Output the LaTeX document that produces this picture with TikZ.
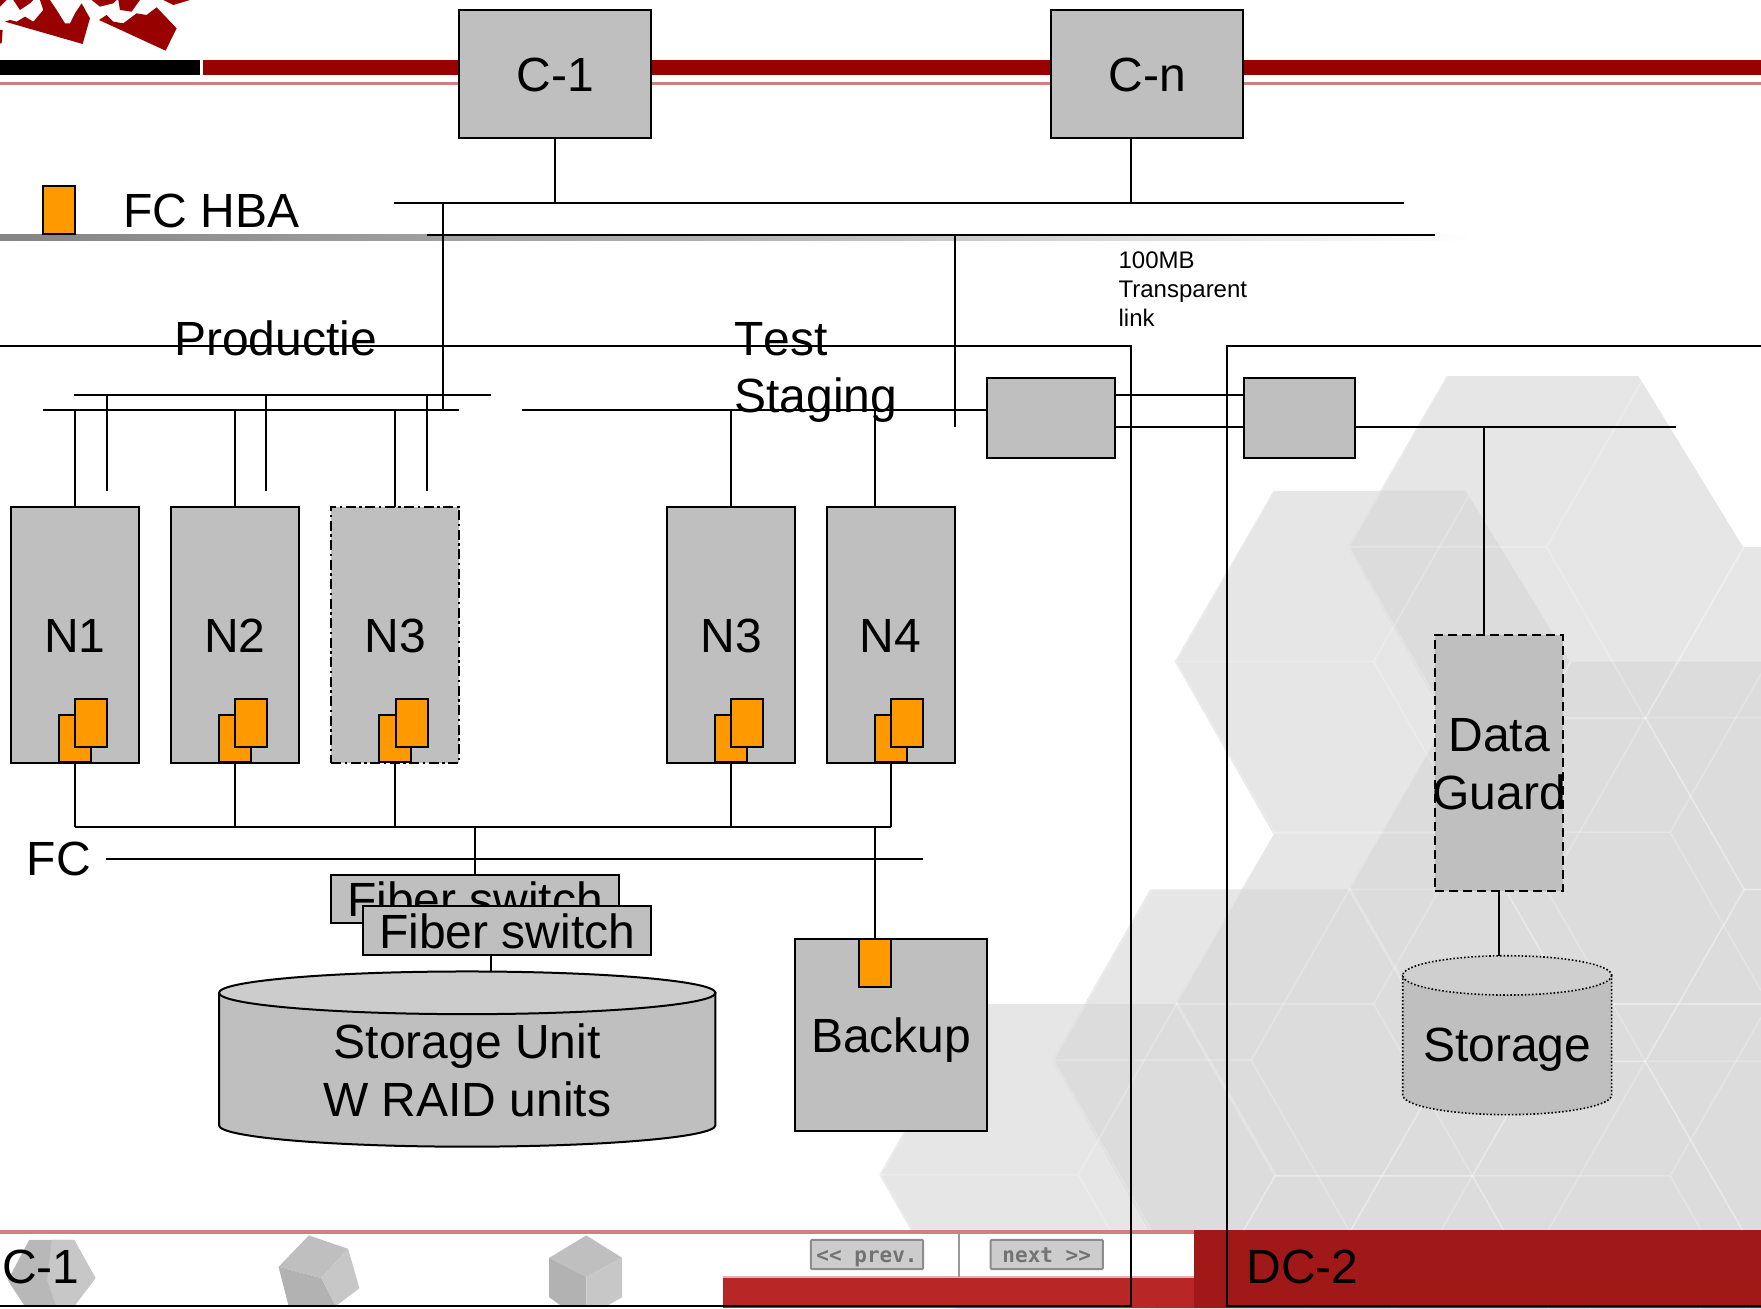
\documentclass[tikz,border=0pt]{standalone}
\usepackage{fontspec}
\setmainfont{Liberation Sans}
\newfontfamily\btnfont{DejaVu Sans Mono Bold}
\usetikzlibrary{calc}
\def\uu{1.1231pt}
\definecolor{boxgray}{HTML}{BFBFBF}
\definecolor{hba}{HTML}{FF9900}
\definecolor{barred}{HTML}{990000}
\definecolor{pinkline}{HTML}{D08080}
\definecolor{darkred}{HTML}{A01818}
\definecolor{midred}{HTML}{B92626}
\definecolor{hexa}{HTML}{E6E6E6}
\definecolor{hexb}{HTML}{DCDCDC}
\tikzset{
  wire/.style={draw=black,line width=2pt},
  boxbase/.style={draw=black,line width=2pt,fill=boxgray,inner sep=0pt,outer sep=0pt},
  hbabox/.style={draw=black,line width=2pt,fill=hba,inner sep=0pt,outer sep=0pt,minimum width=28.5*\uu,minimum height=42.5*\uu},
  nodebox/.style={boxbase,minimum width=114*\uu,minimum height=228*\uu},
  lbl/.style={inner sep=0pt,outer sep=0pt,font=\fontsize{48}{58}\selectfont,align=left},
  boxlbl/.style={lbl,yshift=-1.2pt},
  small/.style={inner sep=0pt,outer sep=0pt,font=\fontsize{24}{29}\selectfont,align=left},
  btn/.style={draw=black!45,line width=2pt,fill=black!20,rounded corners=1pt,inner sep=0pt,minimum width=100*\uu,minimum height=26*\uu,text=black!55,text height=20pt,text depth=4pt,font=\btnfont\fontsize{21}{21}\selectfont},
  spoke/.style={draw=white,draw opacity=.22,line width=1.6pt},
  ndash/.style={dash pattern=on 10pt off 3.5pt on 2.5pt off 3.5pt},
  ddash/.style={dash pattern=on 9pt off 5pt}
}
% silhouette of the background pattern
\def\silh{(1134,437) -- (1305,437) -- (1398,589) -- (2200,589) -- (2200,1600) -- (870,1600) -- (870,1199) -- (783,1046) -- (870,894) -- (1046,894) -- (1134,743) -- (1046,589) -- cycle}
\newcommand{\cubegrid}{%
  \foreach \cx/\cy in {1223/589,1487/741,1223/894,960/1046,1487/1047,1223/1200,1751/894,1751/589,960/1351,1487/1352}{
    \draw[spoke] (\cx-176,\cy) -- (\cx-88,\cy-153) -- (\cx+88,\cy-153) -- (\cx+176,\cy) -- (\cx+88,\cy+153) -- (\cx-88,\cy+153) -- cycle;
    \draw[spoke] (\cx-176,\cy) -- (\cx,\cy) -- (\cx+88,\cy-153);
    \draw[spoke] (\cx,\cy) -- (\cx+88,\cy+153);
  }%
}
\begin{document}
\begin{tikzpicture}[x=1.1231pt,y=-1.1231pt]
\useasboundingbox (0,0) rectangle (1568,1165);
% background pattern
\begin{scope}
  \clip (0,0) rectangle (1568,1165);
  \begin{scope}[shift={(154,-102)}]
    \fill[hexa] \silh;
  \end{scope}
  \fill[hexa] \silh;
  \begin{scope}
    \clip \silh;
    \begin{scope}[shift={(154,-102)}]
      \clip \silh;
      \fill[hexb] (-200,-200) rectangle (1568,1300);
    \end{scope}
  \end{scope}
\end{scope}
\begin{scope}
  \clip (0,0) rectangle (1568,1165);
  \begin{scope}
    \clip \silh;
    \cubegrid
  \end{scope}
  \begin{scope}[shift={(154,-102)}]
    \clip \silh;
    \cubegrid
  \end{scope}
\end{scope}
% logo
\begin{scope}[x=0.2967*1.1231pt,y=-0.2967*1.1231pt]
  \fill[barred] (15,65) -- (248,132) -- (270,55) -- (245,10) -- (225,40) -- (210,70) -- (195,70) -- (170,30) -- (150,0) -- (120,0) -- (130,30) -- (100,65) -- (75,50) -- (50,65) -- (30,60) -- cycle;
  \fill[barred] (297,60) -- (497,152) -- (530,85) -- (470,22) -- (440,45) -- (410,40) -- (390,55) -- (370,70) -- (340,65) -- (320,45) -- cycle;
  \fill[barred] (40,0) -- (60,30) -- (90,10) -- (100,0) -- cycle;
  \fill[barred] (275,0) -- (300,20) -- (340,10) -- (350,0) -- cycle;
  \fill[barred] (355,0) -- (360,30) -- (395,35) -- (420,0) -- cycle;
  \fill[barred] (490,0) -- (520,15) -- (570,0) -- cycle;
  \fill[barred] (0,90) -- (8,90) -- (5,130) -- (0,130) -- cycle;
  \fill[barred] (0,20) -- (20,0) -- (0,0) -- cycle;
\end{scope}
% top bars
\fill[barred] (181,53.5) rectangle (1568,67);
\fill[black] (0,53.5) rectangle (178,67);
\fill[pinkline] (0,73) rectangle (1568,76);
\shade[left color=black!48,right color=white,middle color=black!30] (0,209) rectangle (1310,214);
% footer
\fill[white] (0,1095) rectangle (1568,1165);
\fill[pinkline] (0,1095) rectangle (1063,1098.5);
\fill[midred] (644,1138) rectangle (1063,1165);
\fill[pinkline!60] (644,1136.5) rectangle (1063,1138);
\fill[darkred] (1063,1095) rectangle (1568,1165);
% footer icons
\fill[black!28] (26,1104) -- (66,1104) -- (85,1138) -- (66,1163) -- (22,1163) -- (7,1140) -- cycle;
\fill[black!22] (46,1104) -- (66,1104) -- (85,1138) -- (66,1163) -- (50,1163) -- (42,1140) -- cycle;
\fill[black!25] (275,1100) -- (310,1112) -- (286,1138) -- (248,1128) -- cycle;
\fill[black!30] (248,1128) -- (286,1138) -- (299,1163) -- (257,1163) -- cycle;
\fill[black!22] (286,1138) -- (310,1112) -- (320,1147) -- (299,1163) -- cycle;
\fill[black!25] (522,1100) -- (554,1120) -- (522,1137) -- (489,1120) -- cycle;
\fill[black!30] (489,1120) -- (522,1137) -- (522,1163) -- (500,1163) -- (489,1155) -- cycle;
\fill[black!22] (554,1120) -- (522,1137) -- (522,1163) -- (540,1163) -- (554,1155) -- cycle;
\node[btn] (prev) at (772,1117) {<{}< prev.};
\node[btn] (next) at (932,1117) {next >{}>};
\fill[black!40] (853.2,1098.5) rectangle (854.8,1137);

% data-centre frames
\coordinate (dcA-tl) at (0,308.5);
\coordinate (dcA-tr) at (1007,308.5);
\coordinate (dcA-br) at (1007,1163);
\coordinate (dcA-bl) at (0,1163);
\coordinate (dcB-tr) at (1568,308.5);
\coordinate (dcB-tl) at (1092.5,308.5);
\coordinate (dcB-bl) at (1092.5,1163);
\coordinate (dcB-br) at (1568,1163);
\draw[wire] (dcA-tl) -- (dcA-tr) -- (dcA-br) -- (dcA-bl);
\draw[wire] (dcB-tr) -- (dcB-tl) -- (dcB-bl) -- (dcB-br);

% buses
\coordinate (busA-l) at (351,180.5); \coordinate (busA-r) at (1250,180.5);
\coordinate (busB-l) at (380,209); \coordinate (busB-r) at (1278,209);
\coordinate (lanU-l) at (66,351.5);  \coordinate (lanU-r) at (437,351.5);
\coordinate (lanL-l) at (38,365.5);  \coordinate (lanL-r) at (409,365.5);
\coordinate (lanT-l) at (465,365.5);
\coordinate (sanT-l) at (67,736);  \coordinate (sanT-r) at (793,736);
\coordinate (fc-l) at (94,765);    \coordinate (fc-r) at (822,765);
\coordinate (dgbus-r) at (1492,380);
\coordinate (vtest) at (850,380);
\foreach \a/\b in {busA-l/busA-r,busB-l/busB-r,lanU-l/lanU-r,lanL-l/lanL-r,sanT-l/sanT-r,fc-l/fc-r}
  \draw[wire] (\a) -- (\b);

% nodes
\node[boxbase,minimum width=171*\uu,minimum height=114*\uu,label={[boxlbl]center:C-1}] (c1) at (494.5,66) {};
\node[boxbase,minimum width=171*\uu,minimum height=114*\uu,label={[boxlbl]center:C-n}] (cn) at (1021.5,66) {};
\node[nodebox,label={[boxlbl]center:N1}] (n1) at (66.5,565) {};
\node[nodebox,label={[boxlbl]center:N2}] (n2) at (209,565) {};
\node[nodebox,ndash,label={[boxlbl]center:N3}] (n3a) at (352,565) {};
\node[nodebox,label={[boxlbl]center:N3}] (n3b) at (651,565) {};
\node[nodebox,label={[boxlbl]center:N4}] (n4) at (793,565) {};
\foreach \n/\cx in {a/66.5,b/209,c/352,d/651,e/793}{
  \node[hbabox] (hba\n back) at (\cx,657.5) {};
  \node[hbabox] (hba\n front) at (\cx+14.5,643.5) {};
}
\node[boxbase,minimum width=114*\uu,minimum height=71*\uu] (swA) at (936,372.5) {};
\node[boxbase,minimum width=99.5*\uu,minimum height=71*\uu] (swB) at (1157,372.5) {};
\node[boxbase,ddash,minimum width=114*\uu,minimum height=228*\uu] (dg) at (1335,679) {};
\node[lbl,align=center] (dgtext) at (1335,680.5) {Data\\Guard};
\node[boxbase,minimum width=256*\uu,minimum height=43*\uu,label={[lbl]center:Fiber switch}] (fsA) at (423,800.5) {};
\node[boxbase,minimum width=257*\uu,minimum height=43*\uu,label={[lbl,yshift=-1pt]center:Fiber switch}] (fsB) at (451.5,828.5) {};
\node[boxbase,minimum width=171*\uu,minimum height=171*\uu] (bk) at (793.5,921.5) {};
\node[lbl] (bktext) at (793.5,926) {Backup};
\node[hbabox] (hbabk) at (779.5,857.5) {};
\node[hbabox] (hbaleg) at (52.5,187) {};

% storage cylinders
\coordinate (stA-top) at (437,865);
\filldraw[draw=black,line width=2pt,fill=boxgray] (195,884) -- (195,1002) arc[start angle=180,end angle=0,x radius=221,y radius=19] -- (637,884) -- cycle;
\filldraw[draw=black,line width=2pt,fill=black!20] (416,884) ellipse[x radius=221,y radius=19];
\node[lbl,align=center] (stA) at (416,953) {Storage Unit\\W RAID units};
\coordinate (stB-top) at (1335,851);
\filldraw[draw=black,line width=1.6pt,dotted,fill=boxgray] (1249,868) -- (1249,975) arc[start angle=180,end angle=0,x radius=93,y radius=17.5] -- (1435,868) -- cycle;
\filldraw[draw=black,line width=1.6pt,dotted,fill=black!19] (1342,868.5) ellipse[x radius=93,y radius=17.5];
\node[lbl] (stB) at (1342,935) {Storage};

% connectors
\draw[wire] (c1.south) -- (c1.south |- busA-l);
\coordinate (cnx) at (1007,123);
\draw[wire] (cnx) -- (cnx |- busA-l);
\coordinate (v1) at (394,180);
\draw[wire] (v1) -- (v1 |- lanL-l);
\coordinate (v2) at (850,209);
\draw[wire] (v2) -- (vtest);
\draw[wire] (lanT-l) -- (swA.west |- lanT-l);
\draw[wire] (n1.north) -- (n1.north |- lanL-l);
\draw[wire] (n2.north) -- (n2.north |- lanL-l);
\draw[wire] (n3a.north) -- (n3a.north |- lanL-l);
\draw[wire] (n3b.north) -- (n3b.north |- lanL-l);
\coordinate (n4top) at (779,451);
\draw[wire] (n4top) -- (n4top |- lanL-l);
\foreach \xx in {95,237,380}{
  \coordinate (dropend) at (\xx,437);
  \draw[wire] (dropend) -- (dropend |- lanU-l);
}
\foreach \n in {n1,n2,n3a,n3b,n4}
  \draw[wire] (\n.south) -- (\n.south |- sanT-l);
\draw[wire] (fsA.north) -- (fsA.north |- sanT-l);
\coordinate (bkv) at (779,836);
\draw[wire] (bkv) -- (bkv |- sanT-l);
\coordinate (fsbx) at (437,850);
\draw[wire] (fsbx) -- (stA-top);
\coordinate (swAu) at (993,351.5); \coordinate (swBu) at (1107,351.5);
\coordinate (swAl) at (993,380); \coordinate (swBl) at (1107,380);
\draw[wire] (swAu) -- (swBu);
\draw[wire] (swAl) -- (swBl);
\coordinate (swBr) at (1207,380);
\draw[wire] (swBr) -- (dgbus-r);
\coordinate (dgv) at (1321,380); \coordinate (dgt) at (1321,565);
\draw[wire] (dgv) -- (dgt);
\draw[wire] (dg.south) -- (stB-top);

% texts
\node[lbl,anchor=base west] (hbaText) at (110,202.5) {FC HBA};
\node[lbl,anchor=base west] (prod) at (155,316.5) {Productie};
\node[lbl,anchor=base west] (test) at (654,316.5) {T\kern0pt est};
\node[lbl,anchor=base west] (stag) at (654,367.5) {Staging};
\node[lbl,anchor=west] (fcText) at (24,765) {FC};
\node[small,anchor=west] (link) at (996,257) {100MB\\Transparent\\link};
\node[lbl,anchor=west] (dc1) at (2,1128) {C-1};
\node[lbl,anchor=west] (dc2) at (1110,1128) {DC-2};
\end{tikzpicture}
\end{document}
